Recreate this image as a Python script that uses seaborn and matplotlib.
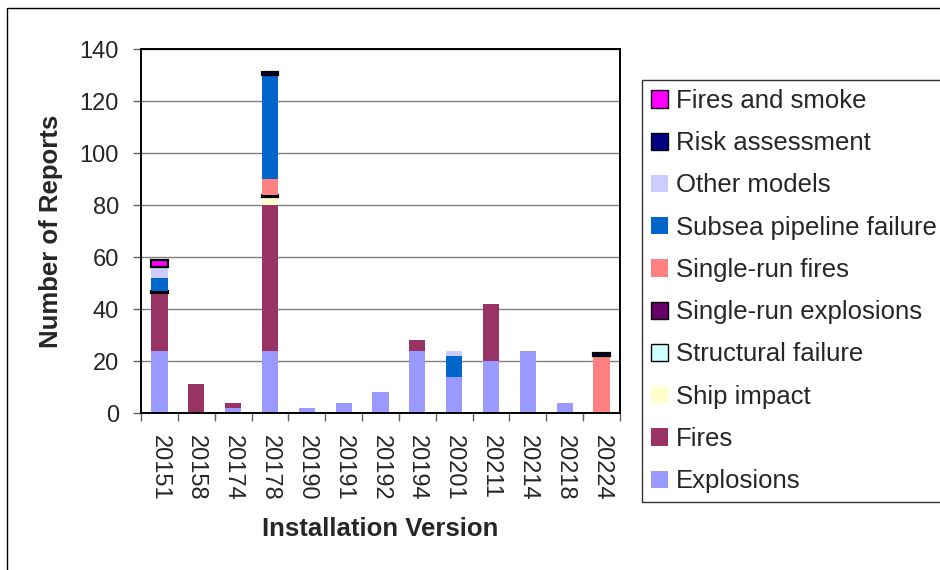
import matplotlib
matplotlib.use("Agg")
import matplotlib.pyplot as plt
from matplotlib.patches import Patch, Rectangle
import numpy as np
import seaborn as sns

versions = ["20151", "20158", "20174", "20178", "20190", "20191", "20192",
            "20194", "20201", "20211", "20214", "20218", "20224"]

# series, bottom of the stack first
explosions         = [24, 0, 2, 24, 2, 4, 8, 24, 14, 20, 24, 4, 0]
fires              = [22, 11, 2, 56, 0, 0, 0, 4, 0, 22, 0, 0, 0]
ship_impact        = [0, 0, 0, 3, 0, 0, 0, 0, 0, 0, 0, 0, 0]
structural_failure = [0, 0, 0, 0, 0, 0, 0, 0, 0, 0, 0, 0, 0]
single_run_expl    = [1, 0, 0, 1, 0, 0, 0, 0, 0, 0, 0, 0, 0]
single_run_fires   = [0, 0, 0, 6, 0, 0, 0, 0, 0, 0, 0, 0, 22]
subsea_pipeline    = [5, 0, 0, 40, 0, 0, 0, 0, 8, 0, 0, 0, 0]
other_models       = [4, 0, 0, 0, 0, 0, 0, 0, 2, 0, 0, 0, 0]
risk_assessment    = [0, 0, 0, 1, 0, 0, 0, 0, 0, 0, 0, 0, 1]
fires_and_smoke    = [3, 0, 0, 0, 0, 0, 0, 0, 0, 0, 0, 0, 0]

# (label, values, colour, black border?)
series = [
    ("Explosions", explosions, "#9999FF", False),
    ("Fires", fires, "#993366", False),
    ("Ship impact", ship_impact, "#FFFFCC", False),
    ("Structural failure", structural_failure, "#CCFFFF", True),
    ("Single-run explosions", single_run_expl, "#660066", True),
    ("Single-run fires", single_run_fires, "#FF8080", False),
    ("Subsea pipeline failure", subsea_pipeline, "#0066CC", False),
    ("Other models", other_models, "#CCCCFF", False),
    ("Risk assessment", risk_assessment, "#000080", True),
    ("Fires and smoke", fires_and_smoke, "#FF00FF", True),
]

sns.set_style("white")
plt.rcParams["font.family"] = ["Liberation Sans", "DejaVu Sans"]

fig = plt.figure(figsize=(9.4, 5.7), dpi=100)
ax = fig.add_axes([141 / 940, 1 - 413 / 570, 479 / 940, 364 / 570])

bottom = np.zeros(len(versions))
for name, vals, color, edged in series:
    vals = np.array(vals, dtype=float)
    sns.barplot(x=versions, y=vals, order=versions, color=color, saturation=1,
                width=0.44, errorbar=None, bottom=bottom, ax=ax,
                edgecolor="black" if edged else "none",
                linewidth=1.6 if edged else 0)
    for p, v in zip(ax.containers[-1], vals):
        if v == 0:
            p.set_visible(False)
    bottom += vals

ax.set_xlim(-0.5, len(versions) - 0.5)
ax.set_ylim(0, 140)
ax.set_yticks(range(0, 141, 20))
ax.yaxis.grid(True, color="#808080", linewidth=1)
ax.set_axisbelow(True)
for s in ax.spines.values():
    s.set_visible(True)
    s.set_color("black")
    s.set_linewidth(1.4)

ax.tick_params(axis="y", which="major", left=True, length=5.8, width=1,
               color="#606060", pad=10, labelsize=17)
ax.set_xticks(range(len(versions)))
ax.set_xticklabels(versions, rotation=-90, fontsize=17)
ax.tick_params(axis="x", which="major", length=0, pad=15.5)
ax.set_xticks(np.arange(-0.5, len(versions), 1), minor=True)
ax.tick_params(axis="x", which="minor", bottom=True, length=5.8, width=1,
               color="#606060")

ax.set_xlabel("Installation Version", fontsize=18.5, fontweight="bold", va="center")
ax.xaxis.set_label_coords(0.5, (413 - 529) / 364)
ax.set_ylabel("Number of Reports", fontsize=18.5, fontweight="bold", va="center")
ax.yaxis.set_label_coords((51 - 141) / 479, 0.5)

handles = [Patch(facecolor=c, edgecolor="black" if e else "none",
                 linewidth=1 if e else 0, label=n)
           for n, v, c, e in reversed(series)]
leg = fig.legend(handles=handles, loc="upper left",
                 bbox_to_anchor=(642 / 940, 500 / 570, 0.4, 1 - 80 / 570 - 500 / 570),
                 mode="expand", fontsize=18.5, frameon=True, fancybox=False,
                 handlelength=0.66, handleheight=0.66, handletextpad=0.3,
                 labelspacing=0.71, borderpad=0.35, borderaxespad=0)
leg.get_frame().set_edgecolor("black")
leg.get_frame().set_linewidth(1)

# outer chart border (right and bottom edges fall outside the picture)
fig.add_artist(Rectangle((7.5 / 940, -0.2), 1.2, 1.2 - 7.5 / 570,
                         transform=fig.transFigure, fill=False,
                         edgecolor="black", linewidth=1))

fig.savefig("out.png", dpi=100)
